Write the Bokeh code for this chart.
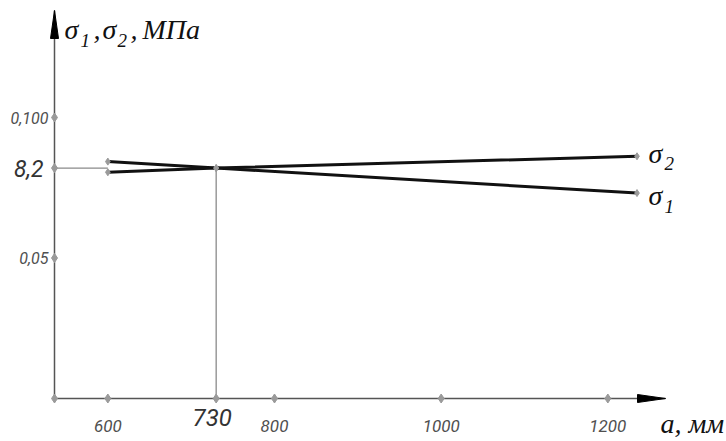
from bokeh.plotting import figure
from bokeh.models import Range1d, Label
from bokeh.core.properties import value
from bokeh.embed import file_html
from bokeh.resources import INLINE

# --- data -------------------------------------------------------------
a_mm = [600, 730, 1235]                # distance a, mm
sigma1 = [0.0843, 0.082, 0.0731]       # sigma_1, MPa
sigma2 = [0.0805, 0.082, 0.0862]       # sigma_2, MPa

a_cross = 730                          # where both stresses are equal
sigma_cross = 0.082
cross_x_label = "730"
cross_y_label = "8,2"

x_ticks = [600, 800, 1000, 1200]
x_tick_labels = ["600", "800", "1000", "1200"]
y_ticks = [0.05, 0.100]
y_tick_labels = ["0,05", "0,100"]

# --- layout -----------------------------------------------------------
W, H = 726, 441
ORG_X, ORG_Y = 54, 398          # axis origin, px from top-left
A_PER_PX = 1.2                  # mm per pixel
S_PER_PX = 1 / 2810             # MPa per pixel
A_AXIS = 536                    # value of a at the vertical axis

x0 = A_AXIS - ORG_X * A_PER_PX
x1 = x0 + W * A_PER_PX
y0 = -(H - ORG_Y) * S_PER_PX
y1 = ORG_Y * S_PER_PX


def ax(px):
    return x0 + px * A_PER_PX


def sy(py):
    return (ORG_Y - py) * S_PER_PX


p = figure(width=W, height=H, x_range=Range1d(x0, x1), y_range=Range1d(y0, y1),
           output_backend="svg", toolbar_location=None,
           x_axis_type=None, y_axis_type=None, min_border=0)
p.grid.visible = False
p.outline_line_color = None
p.background_fill_color = "white"
p.border_fill_color = "white"

AXIS_COL = "#555555"
GUIDE_COL = "#8a8a8a"
TICK_COL = "#9a9a9a"
LABEL_COL = "#505050"
SANS = value("Roboto")
SERIF = "Liberation Serif"

# axes with arrowheads
y_top = sy(10)
x_end = ax(665)
p.segment(x0=[A_AXIS, A_AXIS], y0=[0, 0], x1=[A_AXIS, x_end], y1=[y_top, 0],
          line_color=AXIS_COL, line_width=1.5)
p.patch([A_AXIS, A_AXIS - 4 * A_PER_PX, A_AXIS + 4 * A_PER_PX],
        [y_top, sy(38), sy(38)], color="black")
p.patch([x_end, ax(637), ax(637)], [0, 4 * S_PER_PX, -4 * S_PER_PX], color="black")

# guide lines to the crossing point
p.segment(x0=[A_AXIS, a_cross], y0=[sigma_cross, 0],
          x1=[a_mm[0], a_cross], y1=[sigma_cross, sigma_cross],
          line_color=GUIDE_COL, line_width=1.3)

# stress curves
p.line(a_mm, sigma1, line_color="#111111", line_width=3)
p.line(a_mm, sigma2, line_color="#111111", line_width=3)

# tick marks and node markers
p.scatter([A_AXIS] + x_ticks + [a_cross], [0] * (len(x_ticks) + 2),
          marker="diamond", size=9, color=TICK_COL)
p.scatter([A_AXIS] * 3, y_ticks + [sigma_cross],
          marker="diamond", size=9, color=TICK_COL)
p.scatter(a_mm + a_mm, sigma1 + sigma2, marker="diamond", size=7, color=TICK_COL)

# tick labels
p.text(x=x_ticks, y=[0] * len(x_ticks), text=x_tick_labels,
       text_align="center", text_baseline="middle", y_offset=27,
       text_font=SANS, text_font_style="italic", text_font_size="17px",
       text_color=LABEL_COL)
p.text(x=[a_cross], y=[0], text=[cross_x_label],
       text_align="center", text_baseline="middle", y_offset=19, x_offset=-4,
       text_font=SANS, text_font_style="italic", text_font_size="24px",
       text_color="#333333")
p.text(x=[A_AXIS] * len(y_ticks), y=y_ticks, text=y_tick_labels,
       text_align="right", text_baseline="middle", x_offset=-6,
       text_font=SANS, text_font_style="italic", text_font_size="16px",
       text_color=LABEL_COL)
p.text(x=[A_AXIS], y=[sigma_cross], text=[cross_y_label],
       text_align="right", text_baseline="middle", x_offset=-11,
       text_font=SANS, text_font_style="italic", text_font_size="23px",
       text_color="#333333")


def put(txt, x, base, size, col="#111111"):
    # place by baseline; 'middle' sits ~0.34 em above the alphabetic line
    mid = base - 0.34 * size
    p.add_layout(Label(x=x, y=H - mid, x_units="screen", y_units="screen",
                       text=txt, text_font=SERIF, text_font_style="italic",
                       text_font_size=f"{size}px", text_color=col,
                       text_baseline="middle", text_align="left"))


# axis titles
put("σ", 64, 39, 28)
put("1", 80, 46, 19)
put(",", 93, 39, 28)
put("σ", 102, 39, 28)
put("2", 117, 46, 19)
put(",", 130, 39, 28)
put("МПа", 142, 39, 28)
put("a, мм", 660, 433, 28)

# curve names at the right ends
put("σ", 648, 163, 28)
put("2", 664, 169, 19)
put("σ", 648, 205, 28)
put("1", 664, 212, 19)

open("out.html", "w").write(file_html(p, INLINE))
